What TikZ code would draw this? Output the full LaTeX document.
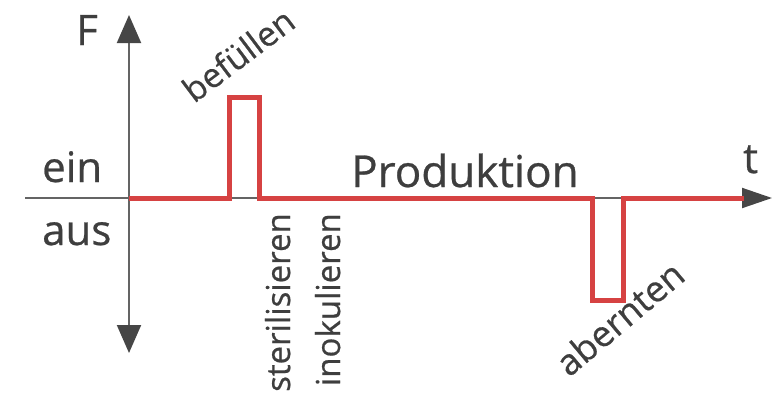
\documentclass[tikz,border=0pt]{standalone}
\usepackage{fontspec}
\setmainfont{Open Sans}[FakeBold=0.6]
\usetikzlibrary{arrows.meta}
\definecolor{pulsered}{RGB}{214,66,66}
\definecolor{axisgray}{RGB}{100,100,100}
\definecolor{tipgray}{RGB}{70,70,70}
\definecolor{labelgray}{RGB}{62,62,62}
\tikzset{
  vtip/.tip={Triangle[length=28pt,width=24pt,color=tipgray]},
  htip/.tip={Triangle[length=30pt,width=20pt,color=tipgray]}
}
\begin{document}
\begin{tikzpicture}[x=1pt,y=-1pt,
  lbl/.style={inner sep=0pt, text=labelgray, font=\fontsize{42}{50}\selectfont},
  smalllbl/.style={inner sep=0pt, text=labelgray, font=\fontsize{33}{40}\selectfont},
  axisline/.style={draw=axisgray, line width=2pt},
  signal/.style={draw=pulsered, line width=5pt, line join=miter, line cap=butt}]
\useasboundingbox (0,0) rectangle (775,394);
% axes
\coordinate (vtop) at (129,15);
\coordinate (vbot) at (129,353);
\coordinate (hleft) at (25,198);
\coordinate (hright) at (772,198);
\draw[axisline, vtip-vtip] (vbot) -- (vtop);
\draw[axisline, -htip] (hleft) -- (hright);
% signal
\coordinate (s0) at (129,198);
\coordinate (s1) at (229,198);
\coordinate (s2) at (229,97);
\coordinate (s3) at (259,97);
\coordinate (s4) at (259,198);
\coordinate (s5) at (592,198);
\coordinate (s6) at (592,300);
\coordinate (s7) at (623,300);
\coordinate (s8) at (623,198);
\coordinate (s9) at (744,198);
\draw[signal] (s0) -- (s1) -- (s2) -- (s3) -- (s4) -- (s5) -- (s6) -- (s7) -- (s8) -- (s9);
% labels
\node[lbl, anchor=base west] (F) at (76,45) {F};
\node[lbl, anchor=base west] (ein) at (42,182) {ein};
\node[lbl, anchor=base west] (aus) at (42,245) {aus};
\node[lbl, anchor=base west] (t) at (743,173) {t};
\node[lbl, anchor=base west, font=\fontsize{44}{50}\selectfont] (prod) at (351,187) {Produktion};
\node[smalllbl, anchor=base west, rotate=37, font=\fontsize{34}{40}\selectfont] (bef) at (194,104) {befüllen};
\node[smalllbl, anchor=base east, rotate=90] (ster) at (290,213) {sterilisieren};
\node[smalllbl, anchor=base east, rotate=90] (inok) at (340,213) {inokulieren};
\node[smalllbl, anchor=base west, rotate=40, font=\fontsize{36}{40}\selectfont] (abe) at (569,378) {abernten};
\end{tikzpicture}
\end{document}
